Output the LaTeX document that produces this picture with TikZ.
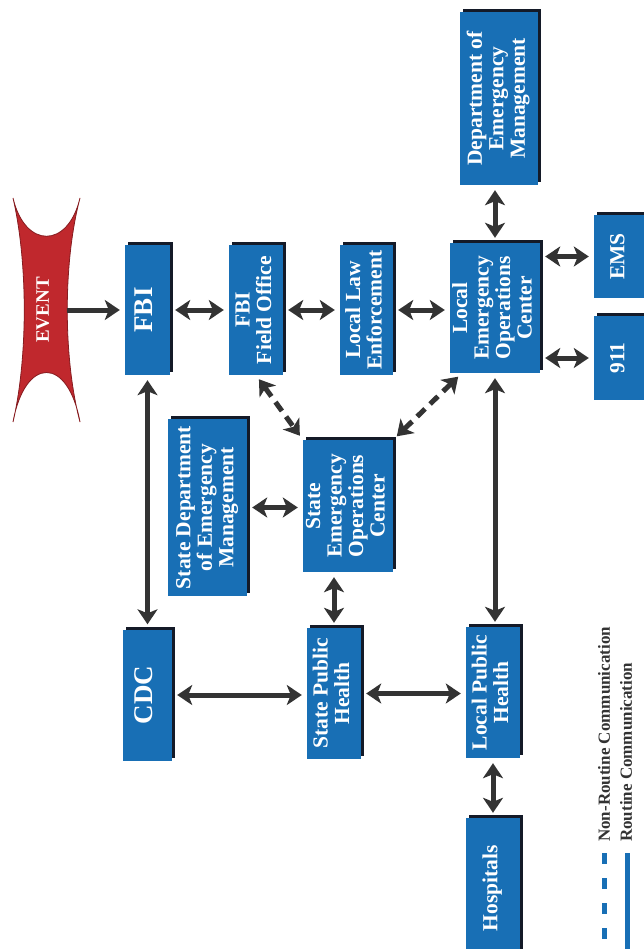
\documentclass[tikz,border=0pt]{standalone}
\usepackage{fontspec}
\setmainfont{Liberation Serif}
\usetikzlibrary{arrows.meta,shadows,calc}
\definecolor{boxblue}{RGB}{24,111,181}
\definecolor{boxshade}{RGB}{20,26,40}
\definecolor{arrowgray}{RGB}{51,51,51}
\definecolor{eventred}{RGB}{192,40,45}
\newcommand{\boxlabel}[1]{\rotatebox{90}{\begin{tabular}{@{}c@{}}#1\end{tabular}}}
\begin{document}
\begin{tikzpicture}[x=1pt,y=-1pt,
	agency/.style={fill=boxblue, text=white, inner sep=0pt, font=\bfseries\fontsize{21.5}{21.5}\selectfont, drop shadow={shadow xshift=3pt,shadow yshift=3pt,fill=boxshade,opacity=1}},
	bigtext/.style={font=\bfseries\fontsize{27}{27}\selectfont},
	link/.style={draw=arrowgray, line width=5pt, {Stealth[length=15pt,width=20pt,inset=4pt]}-{Stealth[length=15pt,width=20pt,inset=4pt]}, shorten <=5pt, shorten >=5pt},
	oneway/.style={link, -{Stealth[length=15pt,width=20pt,inset=4pt]}},
	nonroutine/.style={link, dash pattern=on 11pt off 7pt},
	legendtext/.style={rotate=90, anchor=west, inner sep=0pt, text=arrowgray, font=\bfseries\fontsize{17}{17}\selectfont}]
	\fill[white] (0,0) rectangle (643,949);
	\useasboundingbox (0,0) rectangle (643,949);
	% Event
	\fill[eventred, draw=eventred!70!black, line width=.8pt] (13,198) .. controls (25,249) and (68,249) .. (80,198) .. controls (63,262) and (63,358) .. (80,422) .. controls (68,356) and (25,356) .. (13,422) .. controls (28,358) and (28,262) .. cycle;
	\node[text=white, inner sep=0pt, minimum width=34pt, font=\bfseries\fontsize{19}{19}\selectfont] (event) at (45,310) {\boxlabel{EVENT}};
	% Federal and local row
	\node[agency, bigtext, minimum width=45pt, minimum height=130pt] (fbi) at (147.5,310) {\boxlabel{FBI}};
	\node[agency, minimum width=54pt, minimum height=130pt] (field) at (256,310) {\boxlabel{FBI\\Field Office}};
	\node[agency, minimum width=53pt, minimum height=130pt] (law) at (366.5,310) {\boxlabel{Local Law\\Enforcement}};
	\node[agency, minimum width=90pt, minimum height=130pt] (leoc) at (495,308) {\boxlabel{Local\\Emergency\\Operations\\Center}};
	\node[agency, minimum width=78pt, minimum height=173pt] (dem) at (499,98.5) {\boxlabel{Department of\\Emergency\\Management}};
	\node[agency, minimum width=52pt, minimum height=83pt] (ems) at (620,256.5) {\boxlabel{EMS}};
	\node[agency, minimum width=52pt, minimum height=84pt] (n911) at (620,358) {\boxlabel{911}};
	% State level
	\node[agency, minimum width=79pt, minimum height=177pt] (sdem) at (207.5,507.5) {\boxlabel{State Department\\of Emergency\\Management}};
	\node[agency, minimum width=90pt, minimum height=132pt] (seoc) at (348,506) {\boxlabel{State\\Emergency\\Operations\\Center}};
	% Public health
	\node[agency, bigtext, minimum width=49pt, minimum height=131pt] (cdc) at (147.5,695) {\boxlabel{CDC}};
	\node[agency, minimum width=54pt, minimum height=131pt] (sph) at (334,693.5) {\boxlabel{State Public\\Health}};
	\node[agency, minimum width=54pt, minimum height=131pt] (lph) at (493,692.5) {\boxlabel{Local Public\\Health}};
	\node[agency, minimum width=54pt, minimum height=140pt] (hosp) at (493,888) {\boxlabel{Hospitals}};
	% Routine communication
	\draw[oneway] (event.east) -- (fbi.west);
	\draw[link] (fbi.east) -- (field.west);
	\draw[link] (field.east) -- (law.west);
	\draw[link] (law.east) -- (law.east -| leoc.west);
	\draw[link] (leoc.north) -- (leoc.north |- dem.south);
	\draw[link] (ems.west) -- (ems.west -| leoc.east);
	\draw[link] (n911.west) -- (n911.west -| leoc.east);
	\draw[link] (fbi.south) -- (cdc.north);
	\draw[link] (leoc.south) -- (leoc.south |- lph.north);
	\draw[link] (sdem.east) -- (sdem.east -| seoc.west);
	\draw[link] (sph.north) -- (sph.north |- seoc.south);
	\draw[link] (cdc.east) -- (cdc.east -| sph.west);
	\draw[link] (sph.east) -- (sph.east -| lph.west);
	\draw[link] (lph.south) -- (lph.south |- hosp.north);
	% Non-routine communication
	\draw[nonroutine] (field.south) -- (seoc.north west);
	\draw[nonroutine] ($(leoc.south west)+(12,0)$) -- (seoc.north east);
	% Legend
	\node[legendtext] (nonlabel) at (604,842) {Non-Routine Communication};
	\node[legendtext] (routlabel) at (626,842) {Routine Communication};
	\draw[boxblue, line width=5pt, dash pattern=on 11pt off 14pt] (604,853) -- (604,949);
	\draw[boxblue, line width=5pt] (627,853) -- (627,949);
\end{tikzpicture}
\end{document}
